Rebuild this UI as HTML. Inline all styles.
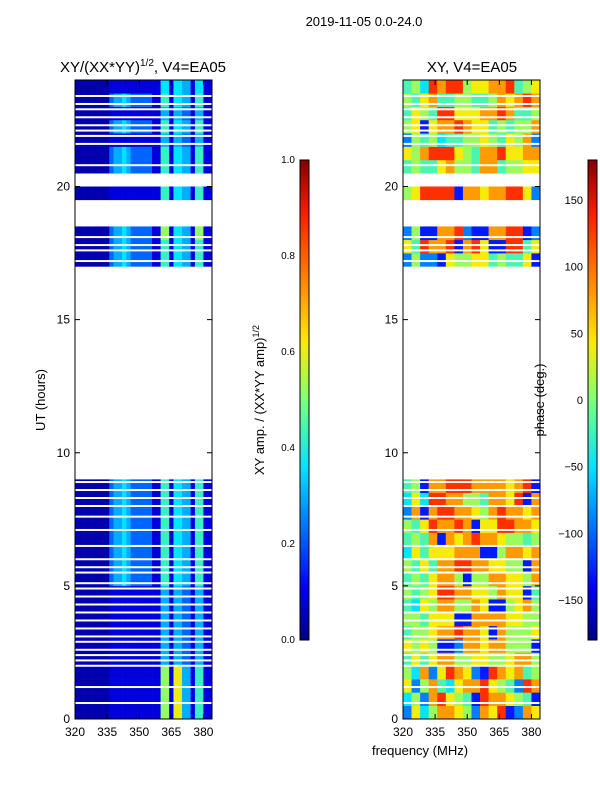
<!DOCTYPE html>
<html><head><meta charset="utf-8"><style>
body{margin:0;background:#fff;font-family:"Liberation Sans",sans-serif}
svg text{font-family:"Liberation Sans",sans-serif;fill:#000}
</style></head><body>
<svg id="fig" width="600" height="800" viewBox="0 0 600 800" xmlns="http://www.w3.org/2000/svg">
<defs>
<linearGradient id="jet" x1="0" y1="1" x2="0" y2="0">
<stop offset="0" stop-color="#000080"/><stop offset="0.11" stop-color="#0000ff"/><stop offset="0.36" stop-color="#00e5ff"/><stop offset="0.5" stop-color="#7dff7a"/><stop offset="0.62" stop-color="#ffea00"/><stop offset="0.89" stop-color="#ff1a00"/><stop offset="1" stop-color="#800000"/>
</linearGradient>
</defs>
<text x="364" y="26" font-size="13" text-anchor="middle">2019-11-05 0.0-24.0</text>
<text x="143" y="72" font-size="15" text-anchor="middle">XY/(XX*YY)<tspan font-size="10" dy="-6">1/2</tspan><tspan dy="6">, V4=EA05</tspan></text>
<text x="472" y="72" font-size="15" text-anchor="middle">XY, V4=EA05</text>
<g id="left"></g>
<g id="right"></g>
<g id="axes"></g>
<rect x="300" y="160" width="9" height="480" fill="url(#jet)" stroke="#000" stroke-width="1"/>
<rect x="588" y="160" width="9" height="480" fill="url(#jet)" stroke="#000" stroke-width="1"/>
<text transform="translate(45,400) rotate(-90)" font-size="13" text-anchor="middle">UT (hours)</text>
<text transform="translate(264,400) rotate(-90)" font-size="13" text-anchor="middle">XY amp. / (XX*YY amp)<tspan font-size="9" dy="-5">1/2</tspan></text>
<text transform="translate(544,400) rotate(-90)" font-size="13" text-anchor="middle">phase (deg.)</text>
<text x="420" y="755" font-size="13" text-anchor="middle">frequency (MHz)</text>
</svg>
<script>
const ampRows = [
"00000000111111111111661773315511","00000000111111111111661773315511","00000000111111111111661773315511","00000000111111111111661773315511",
"00000000111111111111331332213311","00000000111111111111331332213311","00000000111111111111331332213311","00000000111111111111331332213311",
"00000000111111111111331332213311","00000000111111111111331332213311",
"00000000233432222211551443315511","00000000233432222211551443315511","00000000233432222211551443315511",
"00000000233432222211551443315511","00000000233432222211551443315511","00000000233432222211551443315511",
"00000000233432222211551443315511","00000000233432222211551443315511",
"-","-","-","-","-","-","-","-","-","-","-","-","-","-","-","-",
"00000000233432222211551443315511","00000000233432222211551443315511","00000000233432222211661443316611",
"-","-","00000000111111111111551443315511","-",
"00000000233432222211551443315511","00000000233432222211551443315511","00000000111111111111331332213311",
"00000000233432222211551443315511","00000000111111111111331332213311","00000000233432222211551443315511","00000000111111111111441443314411"];
const ampLevels = [0.04,0.08,0.22,0.3,0.36,0.42,0.52,0.6];
const phaseRows = [
"2635776527681276","3527865418776541","6257436778654287","5372687621876745","4646775566556775","6565112776775551",
"4556778776175556","5546661177776655","4365775576115675","5456887766576614","4546775155776657","5464778877665517",
"3646667771157767","4547176787765545","5468778716688776","2717887765787767","3638877554776817","4517788877776781",
"-","-","-","-","-","-","-","-","-","-","-","-","-","-","-","-",
"2522165566454461","6487781786118846","2511778211778812","-","-","5688881776778862","-",
"4544675547745566","6578886547786677","2545344556546572","5616778766454557","4654886667787445","5467445544576787","4538788566778456"];
const phaseLevels = [-170,-130,-90,-50,-20,10,40,80,130];
const gapTimes = [0.6,1.2,2.0,2.2,2.4,2.6,2.9,3.1,3.4,3.7,4.0,4.3,4.6,4.9,5.1,5.5,5.7,6.0,6.5,7.1,7.6,8.0,8.3,8.6,8.9,17.2,17.6,17.8,18.1,20.8,21.6,21.9,22.1,22.3,22.6,22.9,23.1,23.4];
const timeTicks = [0,5,10,15,20];
const freqTicks = [320,335,350,365,380];
const ampTicks = [0.0,0.2,0.4,0.6,0.8,1.0];
const phaseTicks = [-150,-100,-50,0,50,100,150];

const NS="http://www.w3.org/2000/svg";
function yT(t){return 719-(t/24)*639;}
function xF(f,x0){return x0+(f-320)/64*137;}
function jet(v){v=Math.max(0,Math.min(1,v));
 const st=[[0,0,0,128],[0.11,0,0,255],[0.36,0,229,255],[0.5,125,255,122],[0.62,255,234,0],[0.89,255,26,0],[1,128,0,0]];
 for(let i=1;i<st.length;i++){if(v<=st[i][0]){const a=st[i-1],b=st[i],k=(v-a[0])/(b[0]-a[0]);
 return `rgb(${Math.round(a[1]+k*(b[1]-a[1]))},${Math.round(a[2]+k*(b[2]-a[2]))},${Math.round(a[3]+k*(b[3]-a[3]))})`;}}return "#800000";}
function mk(tag,attrs,parent){const e=document.createElementNS(NS,tag);for(const k in attrs)e.setAttribute(k,attrs[k]);parent.appendChild(e);return e;}

function drawHeat(g,rows,x0,toVal,name){
 rows.forEach((row,i)=>{ if(row==="-")return;
  const n=row.length, df=64/n, t0=i*0.5, t1=t0+0.5;
  for(let c=0;c<n;c++){
   const x=xF(320+c*df,x0), x2=xF(320+(c+1)*df,x0);
   const r=mk("rect",{x:x,y:yT(t1),width:x2-x+0.3,height:yT(t0)-yT(t1)+0.3,fill:jet(toVal(row[c]))},g);
   
   
  }});
 gapTimes.forEach(t=>{const r=mk("rect",{x:x0,y:yT(t)-1,width:137,height:2,fill:"#fff"},g);
  
  });
}
drawHeat(document.getElementById("left"),ampRows,75,ch=>ampLevels[+ch],"amp-cell");
drawHeat(document.getElementById("right"),phaseRows,403,ch=>(phaseLevels[+ch]+180)/360,"phase-cell");

const ax=document.getElementById("axes");
[75,403].forEach((x0,pi)=>{
 const fr=mk("rect",{x:x0,y:80,width:137,height:639,fill:"none",stroke:"#000","stroke-width":1},ax);
 
 
 timeTicks.forEach(t=>{const y=yT(t);
  mk("line",{x1:x0,y1:y,x2:x0+5,y2:y,stroke:"#000"},ax);
  mk("line",{x1:x0+137,y1:y,x2:x0+132,y2:y,stroke:"#000"},ax);
  const tx=mk("text",{x:x0-5,y:y+4,"font-size":12,"text-anchor":"end"},ax);tx.textContent=t;
  
  });
 freqTicks.forEach(f=>{const x=xF(f,x0);
  mk("line",{x1:x,y1:719,x2:x,y2:714,stroke:"#000"},ax);
  mk("line",{x1:x,y1:80,x2:x,y2:85,stroke:"#000"},ax);
  const tx=mk("text",{x:x,y:736,"font-size":12,"text-anchor":"middle"},ax);tx.textContent=f;
  
  });
});
ampTicks.forEach(v=>{const y=640-v*480;
 mk("line",{x1:300,y1:y,x2:304,y2:y,stroke:"#000"},ax);
 const tx=mk("text",{x:295,y:y+3,"font-size":10,"text-anchor":"end"},ax);tx.textContent=v.toFixed(1);
 
 });
phaseTicks.forEach(v=>{const y=400-v*240/180;
 mk("line",{x1:588,y1:y,x2:592,y2:y,stroke:"#000"},ax);
 const tx=mk("text",{x:583,y:y+4,"font-size":11,"text-anchor":"end"},ax);tx.textContent=v<0?"\u2212"+(-v):v;
 
 });
</script>
</body></html>
